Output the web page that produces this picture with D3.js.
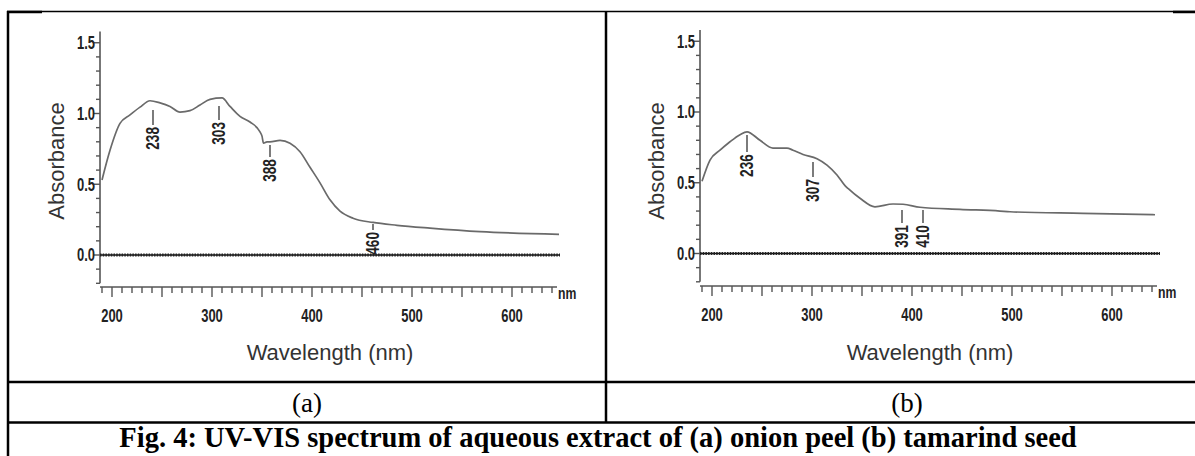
<!DOCTYPE html>
<html><head><meta charset="utf-8">
<script src="https://cdn.jsdelivr.net/npm/d3@7"></script>
<style>
html,body{margin:0;padding:0;background:#fff;}
svg{display:block;}
</style></head>
<body>
<script>
// ---- Data ----
const wavelengthA = [190,198,208,218,228,238,248,258,268,278,288,298,310,318,328,338,348,350,351.5,355,358,368,378,388,398,408,418,428,441,461,485,518,568,647];
const absorbanceA = [0.53,0.74,0.93,0.99,1.045,1.09,1.075,1.05,1.01,1.02,1.06,1.10,1.11,1.05,0.98,0.94,0.87,0.84,0.79,0.80,0.80,0.81,0.79,0.73,0.62,0.51,0.39,0.31,0.26,0.23,0.21,0.19,0.165,0.146];
const wavelengthB = [190,198,208,218,228,235,248,261,275,281,291,305,315,325,333,336,348,363,381,391,408,448,488,498,571,643];
const absorbanceB = [0.51,0.66,0.73,0.79,0.84,0.86,0.80,0.745,0.745,0.73,0.70,0.67,0.625,0.555,0.48,0.46,0.39,0.33,0.35,0.348,0.327,0.312,0.30,0.295,0.284,0.274];
const peakLabelsA = ["238","303","388","460"];
const peakPosA = [241,307,358,461];
const peakAbsA = [1.025,1.053,0.777,0.219];
const peakLenA = [15,14,12,6];
const peakLabelsB = ["236","307","391","410"];
const peakPosB = [235,301,390,411];
const peakAbsB = [0.837,0.647,0.307,0.307];
const peakLenB = [17,15,13,13];
const xTickLabels = [200,300,400,500,600];
const yTickLabels = ["0.0","0.5","1.0","1.5"];
const yTickValues = [0,0.5,1.0,1.5];
const panelLabels = ["(a)","(b)"];
const caption = "Fig. 4: UV-VIS spectrum of aqueous extract of (a) onion peel (b) tamarind seed";

const W = 1195, H = 456;
const svg = d3.select("body").append("svg").attr("width", W).attr("height", H);

const bold = "'Liberation Sans',Arial,Helvetica,sans-serif";
const sans = "'Liberation Sans',Arial,Helvetica,sans-serif";
const serif = "'Liberation Serif','Times New Roman',serif";
const SQ = 0.72; // horizontal squeeze for condensed labels

function condText(g, tx, ty, rot, anchor, size, t, dy){
  g.append("text")
    .attr("transform", `translate(${tx},${ty}) rotate(${rot}) scale(${SQ},1)`)
    .attr("text-anchor", anchor).attr("dy", dy || 0)
    .attr("font-family", bold).attr("font-weight", "bold")
    .attr("font-size", size).attr("fill", "#222").text(t);
}

function panel(ox, zeroY, axisY, wl, ab, pLab, pPos, pAbs, pLen, label){
  const x = d3.scaleLinear().domain([188, 648]).range([ox, ox + 460]);
  const y = d3.scaleLinear().domain([0, 1]).range([zeroY, zeroY - 141.5]);
  const g = svg.append("g");
  const axisCol = "#555";

  // y axis
  g.append("line").attr("x1", x(188)).attr("x2", x(188))
    .attr("y1", y(1.58)).attr("y2", y(-0.2)).attr("stroke", axisCol).attr("stroke-width", 1.6);
  const yt = d3.range(-2, 16).map(d => d / 10);
  g.selectAll(".yt").data(yt).enter().append("line")
    .attr("x1", x(188)).attr("x2", d => x(188) - (Math.abs(Math.round(d*10) % 5) === 0 ? 6 : 4))
    .attr("y1", d => y(d)).attr("y2", d => y(d)).attr("stroke", axisCol).attr("stroke-width", 1.4);
  yTickValues.forEach((v, i) => condText(g, x(188) - 5, y(v), 0, "end", 18, yTickLabels[i], "0.35em"));

  // x axis
  g.append("line").attr("x1", x(188)).attr("x2", x(645)).attr("y1", axisY).attr("y2", axisY)
    .attr("stroke", axisCol).attr("stroke-width", 1.6);
  const xt = d3.range(190, 650, 10);
  g.selectAll(".xt").data(xt).enter().append("line")
    .attr("x1", d => x(d)).attr("x2", d => x(d)).attr("y1", axisY)
    .attr("y2", d => axisY + (d % 50 === 0 ? 10 : 6)).attr("stroke", axisCol).attr("stroke-width", 1.4);
  xTickLabels.forEach(v => condText(g, x(v), axisY + 35, 0, "middle", 18, String(v)));
  condText(g, x(645) + 1, axisY + 12, 0, "start", 17, "nm");

  // zero baseline (dotted thick)
  g.append("line").attr("x1", x(188)).attr("x2", x(648)).attr("y1", y(0)).attr("y2", y(0))
    .attr("stroke", "#111").attr("stroke-width", 1.5);
  g.append("line").attr("x1", x(188)).attr("x2", x(648)).attr("y1", y(0)).attr("y2", y(0))
    .attr("stroke", "#222").attr("stroke-width", 3.2).attr("stroke-dasharray", "1.5,1.2");

  // curve
  const pts = wl.map((d, i) => [d, ab[i]]);
  g.append("path").datum(pts)
    .attr("d", d3.line().x(d => x(d[0])).y(d => y(d[1])).curve(d3.curveMonotoneX))
    .attr("fill", "none").attr("stroke", "#6a6a6a").attr("stroke-width", 1.7);

  // peak labels
  pLab.forEach((t, i) => {
    const px = x(pPos[i]), top = y(pAbs[i]), bot = top + pLen[i];
    g.append("line").attr("x1", px).attr("x2", px).attr("y1", top).attr("y2", bot)
      .attr("stroke", "#444").attr("stroke-width", 1.4);
    condText(g, px + 6, bot + 2, -90, "end", 19, t);
  });

  // axis titles
  g.append("text").attr("transform", `translate(${ox - 36},${161}) rotate(-90)`)
    .attr("text-anchor", "middle").attr("font-family", sans).attr("font-size", 22)
    .attr("fill", "#333").text("Absorbance");
  g.append("text").attr("x", x(418)).attr("y", 360).attr("text-anchor", "middle")
    .attr("font-family", sans).attr("font-size", 22).attr("fill", "#333").text("Wavelength (nm)");

  // panel label
  svg.append("text").attr("x", ox + 207).attr("y", 412).attr("text-anchor", "middle")
    .attr("font-family", serif).attr("font-size", 27).attr("fill", "#000").text(label);
}

panel(100, 255, 287, wavelengthA, absorbanceA, peakLabelsA, peakPosA, peakAbsA, peakLenA, panelLabels[0]);
panel(700, 253.5, 286, wavelengthB, absorbanceB, peakLabelsB, peakPosB, peakAbsB, peakLenB, panelLabels[1]);

// table lines
const bl = svg.append("g").attr("stroke", "#000");
bl.append("line").attr("x1", 7).attr("x2", W).attr("y1", 11.5).attr("y2", 11.5).attr("stroke-width", 1.5);
bl.append("line").attr("x1", 7).attr("x2", 42).attr("y1", 12).attr("y2", 12).attr("stroke-width", 2.5);
bl.append("line").attr("x1", 1173).attr("x2", W).attr("y1", 12).attr("y2", 12).attr("stroke-width", 2.5);
bl.append("line").attr("x1", 8).attr("x2", 8).attr("y1", 11).attr("y2", H).attr("stroke-width", 2.5);
bl.append("line").attr("x1", 606).attr("x2", 606).attr("y1", 11).attr("y2", 423).attr("stroke-width", 2.5);
bl.append("line").attr("x1", 7).attr("x2", W).attr("y1", 382).attr("y2", 382).attr("stroke-width", 2.5);
bl.append("line").attr("x1", 7).attr("x2", W).attr("y1", 422.5).attr("y2", 422.5).attr("stroke-width", 2.5);

svg.append("text").attr("x", 598).attr("y", 447).attr("text-anchor", "middle")
  .attr("font-family", serif).attr("font-weight", "bold").attr("font-size", 28.5).attr("fill", "#000")
  .text(caption);
</script>
</body></html>
